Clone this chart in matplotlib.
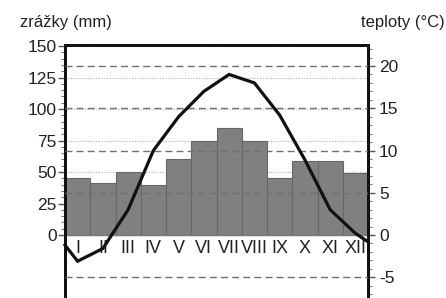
import numpy as np
import matplotlib
matplotlib.use("Agg")
import matplotlib.pyplot as plt
from matplotlib.ticker import MultipleLocator

plt.rcParams['font.family'] = ['Liberation Sans Narrow', 'Liberation Sans', 'DejaVu Sans']
plt.rcParams['axes.unicode_minus'] = False

# data
months = ['I', 'II', 'III', 'IV', 'V', 'VI', 'VII', 'VIII', 'IX', 'X', 'XI', 'XII']
precip = [45, 41, 50, 40, 60, 75, 85, 75, 45, 59, 59, 49]          # mm
temp = [-3.1, -1.6, 3.0, 10.0, 14.0, 17.0, 19.0, 18.0, 14.2, 8.9, 3.0, 0.2]  # deg C
temp_start = -1.2   # where the curve meets the left edge
temp_end = -0.8     # where the curve meets the right edge

# px per mm and px per deg C in the original
mm_px = 1.26
deg_px = 8.45
p_lo, p_hi = -60, 150.8

W, H = 446, 298
fig = plt.figure(figsize=(W / 100, H / 100), dpi=100)
top_px = 45
h_px = (p_hi - p_lo) * mm_px
ax = fig.add_axes([65 / W, 1 - (top_px + h_px) / H, (368 - 65) / W, h_px / H])

x = np.arange(1, 13)
ax.set_xlim(0.5, 12.5)
ax.set_ylim(p_lo, p_hi)

# dotted precip grid (under bars)
for v in range(25, 151, 25):
    ax.axhline(v, color='#b0b0b0', lw=0.8, ls=(0, (1, 1.5)), zorder=1)

ax.bar(x, precip, width=1.0, color='#808080', edgecolor='#676767', lw=0.8, zorder=2)
ax.axhline(0, color='#7a7a7a', lw=1.0, zorder=3)

ax2 = ax.twinx()
k = mm_px / deg_px
ax2.set_ylim(p_lo * k, p_hi * k)

# dashed temperature grid (over bars)
for v in [-5, 5, 10, 15, 20]:
    ax2.axhline(v, color='#707070', lw=1.0, ls=(0, (5, 3)), zorder=3)

for i, m in enumerate(months):
    ax2.text(x[i], -1.6, m, ha='center', va='center', fontsize=13, color='#222222', zorder=4)

tx = np.concatenate([[0.5], x, [12.5]])
ty = np.concatenate([[temp_start], temp, [temp_end]])
ax2.plot(tx, ty, color='#111111', lw=2.3, solid_joinstyle='miter', zorder=5, clip_on=False)

# ticks
ax.set_yticks(range(0, 151, 25))
ax.set_yticks([v for v in range(0, 151, 5) if v % 25], minor=True)
ax.set_xticks([])
ax.tick_params(axis='y', which='major', length=5, width=1, colors='#555555', labelcolor='#222222',
               labelsize=12.5, pad=1)
ax.tick_params(axis='y', which='minor', length=3, width=0.8, colors='#777777')

ax2.set_yticks([-5, 0, 5, 10, 15, 20])
ax2.yaxis.set_minor_locator(MultipleLocator(1))
ax2.tick_params(axis='y', which='major', length=5, width=1, colors='#555555', labelcolor='#222222',
                labelsize=12.5, pad=3)
ax2.tick_params(axis='y', which='minor', length=3, width=0.8, colors='#777777')

for a in (ax, ax2):
    for s in a.spines.values():
        s.set_linewidth(2)
        s.set_color('#111111')

fig.text(20 / W, 1 - 22 / H, 'zrážky (mm)', ha='left', va='center', fontsize=12, color='#222222')
fig.text(445 / W, 1 - 22 / H, 'teploty (°C)', ha='right', va='center', fontsize=12, color='#222222')

fig.savefig('out.png', dpi=100)
